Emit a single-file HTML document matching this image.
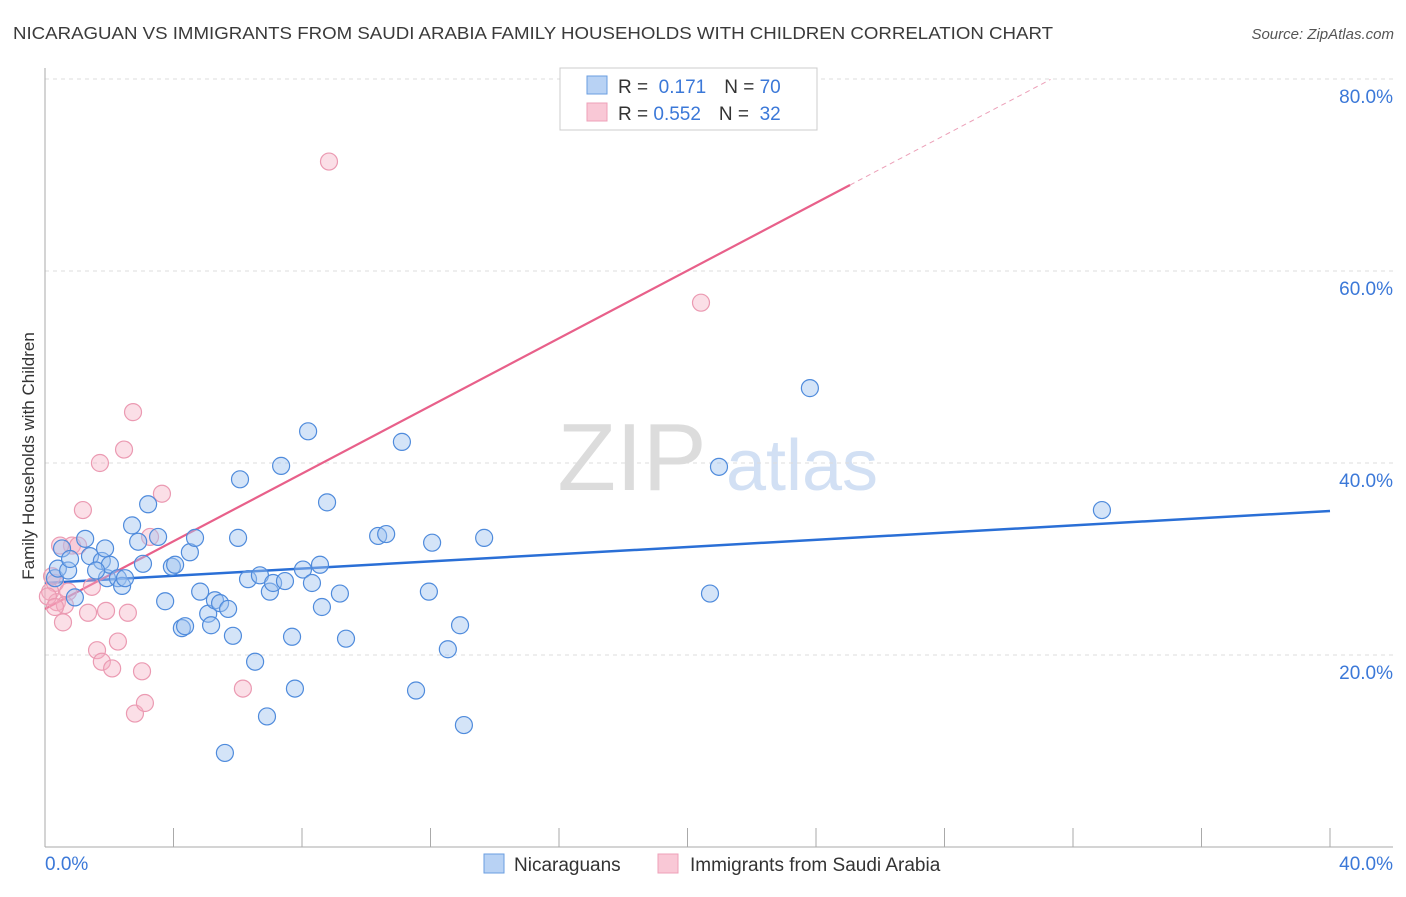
<!DOCTYPE html>
<html><head><meta charset="utf-8"><style>
body{margin:0;background:#fff;font-family:"Liberation Sans",sans-serif;}
svg text{font-family:"Liberation Sans",sans-serif;}
</style></head><body>
<svg id="chart" width="1406" height="892" xmlns="http://www.w3.org/2000/svg">
<text x="13" y="39" font-size="17.5" fill="#3a3a3a" textLength="1040" lengthAdjust="spacingAndGlyphs">NICARAGUAN VS IMMIGRANTS FROM SAUDI ARABIA FAMILY HOUSEHOLDS WITH CHILDREN CORRELATION CHART</text>
<text x="1394" y="39" font-size="15" fill="#555" font-style="italic" text-anchor="end">Source: ZipAtlas.com</text>
<g>
<text x="632" y="490" font-size="96" font-family="Liberation Serif,serif" fill="#dcdcdc" text-anchor="middle">ZIP</text>
<text x="802" y="490" font-size="72" fill="#d2e0f4" text-anchor="middle">atlas</text>
</g>
<g id="grid"></g>
<g id="axes"></g>
<text transform="translate(34,456) rotate(-90)" font-size="17" fill="#333" text-anchor="middle">Family Households with Children</text>
<g id="lines"></g>
<g id="points"></g>
<g>
<rect x="560" y="68" width="257" height="62" fill="#fff" stroke="#ccc"/>
<rect x="587" y="76" width="20" height="18" fill="#b8d2f4" stroke="#6a9ee0"/>
<rect x="587" y="103" width="20" height="18" fill="#f9c8d6" stroke="#eea0b8"/>
<text x="618" y="93" font-size="19" fill="#333">R = <tspan fill="#3b78d8">&#160;0.171</tspan><tspan dx="18" fill="#333">N = </tspan><tspan fill="#3b78d8">70</tspan></text>
<text x="618" y="120" font-size="19" fill="#333">R = <tspan fill="#3b78d8">0.552</tspan><tspan dx="18" fill="#333">N = </tspan><tspan fill="#3b78d8">&#160;32</tspan></text>
</g>
<g>
<rect x="484" y="854" width="20" height="19" fill="#b8d2f4" stroke="#6a9ee0"/>
<text x="514" y="871" font-size="19" fill="#333">Nicaraguans</text>
<rect x="658" y="854" width="20" height="19" fill="#f9c8d6" stroke="#eea0b8"/>
<text x="690" y="871" font-size="19" fill="#333">Immigrants from Saudi Arabia</text>
</g>
</svg>
<script>
const yTicks=[20,40,60,80];
const yTickLabels=["20.0%","40.0%","60.0%","80.0%"];
const xTickLabels=["0.0%","40.0%"];
const blueX=[0.31,0.40,0.53,0.72,0.78,1.25,1.40,1.77,1.87,1.93,2.02,2.27,2.40,2.49,2.71,2.90,3.05,3.21,3.52,3.74,3.95,4.05,4.26,4.36,4.51,4.67,4.83,5.08,5.17,5.29,5.45,5.60,5.70,5.85,6.01,6.07,6.32,6.54,6.69,6.91,7.00,7.10,7.35,7.47,7.69,7.78,8.03,8.19,8.31,8.56,8.62,8.78,9.18,9.37,10.37,10.62,11.11,11.55,11.95,12.05,12.54,12.92,13.04,13.67,20.70,20.98,23.81,32.90,0.93,1.59];
const blueY=[28.0,29.0,31.1,28.8,30.0,32.1,30.3,29.8,31.1,28.0,29.4,28.0,27.2,28.0,33.5,31.8,29.5,35.7,32.3,25.6,29.2,29.4,22.8,23.0,30.7,32.2,26.6,24.3,23.1,25.7,25.4,9.8,24.8,22.0,32.2,38.3,27.9,19.3,28.3,13.6,26.6,27.5,39.7,27.7,21.9,16.5,28.9,43.3,27.5,29.4,25.0,35.9,26.4,21.7,32.4,32.6,42.2,16.3,26.6,31.7,20.6,23.1,12.7,32.2,26.4,39.6,47.8,35.1,26.0,28.8];
const pinkX=[0.31,0.22,0.16,0.37,0.56,0.72,0.84,1.03,1.18,1.34,1.46,1.62,1.71,1.77,1.90,2.09,2.27,2.46,2.58,2.74,2.80,3.02,3.11,3.27,3.64,6.16,8.84,20.42,0.47,0.09,0.62,0.31];
const pinkY=[27.5,28.2,26.6,25.5,23.4,26.6,31.4,31.4,35.1,24.4,27.1,20.5,40.0,19.3,24.6,18.6,21.4,41.4,24.4,45.3,13.9,18.3,15.0,32.3,36.8,16.5,71.4,56.7,31.4,26.1,25.2,25.0];
const blueLine=[27.5,35.0];
const pinkLine=[24.8,1.762];
const NS="http://www.w3.org/2000/svg";
const X=v=>45+v*32.125, Y=v=>847-v*9.6;
function mk(t,a,p){const e=document.createElementNS(NS,t);for(const k in a)e.setAttribute(k,a[k]);p.appendChild(e);return e;}
const grid=document.getElementById('grid'),axes=document.getElementById('axes'),lines=document.getElementById('lines'),pts=document.getElementById('points');
yTicks.forEach((t,i)=>{
 const l=mk('line',{x1:45,x2:1393,y1:Y(t),y2:Y(t),stroke:'#ddd','stroke-dasharray':'4,4'},grid);
 
 
 const tx=mk('text',{x:1393,y:Y(t)+24,'font-size':19,fill:'#3b78d8','text-anchor':'end'},axes);
 tx.textContent=yTickLabels[i];
 
 
});
const ya=mk('line',{x1:45,x2:45,y1:68,y2:847,stroke:'#aaa'},axes);


const xa=mk('line',{x1:45,x2:1393,y1:847,y2:847,stroke:'#aaa'},axes);


for(let v=0;v<=40;v+=4){const t=mk('line',{x1:X(v),x2:X(v),y1:828,y2:847,stroke:'#aaa'},axes);
 
 }
[[0,'start',45],[40,'end',1393]].forEach((d,i)=>{const t=mk('text',{x:d[2],y:870,'font-size':19,fill:'#3b78d8','text-anchor':d[1]},axes);t.textContent=xTickLabels[i];
 
 });
function dots(xs,ys,fill,stroke,name){xs.forEach((x,i)=>{const c=mk('circle',{cx:X(x),cy:Y(ys[i]),r:8.5,fill:fill,stroke:stroke,'stroke-width':1.2},pts);
 
 });}
dots(pinkX,pinkY,'rgba(246,176,196,0.4)','#eb9ab2','saudi-point');
dots(blueX,blueY,'rgba(160,196,240,0.45)','#4f8bdc','nicaraguan-point');
const bl=mk('line',{x1:X(0),y1:Y(blueLine[0]),x2:X(40),y2:Y(blueLine[1]),stroke:'#2a6fd6','stroke-width':2.5},lines);


const pe=25.06, pd=31.3;
const pl=mk('line',{x1:X(0),y1:Y(pinkLine[0]),x2:X(pe),y2:Y(pinkLine[0]+pinkLine[1]*pe),stroke:'#e8608a','stroke-width':2.2},lines);


const pdl=mk('line',{x1:X(pe),y1:Y(pinkLine[0]+pinkLine[1]*pe),x2:X(pd),y2:Y(pinkLine[0]+pinkLine[1]*pd),stroke:'#eca0b8','stroke-width':1,'stroke-dasharray':'5,4'},lines);


</script>
</body></html>
